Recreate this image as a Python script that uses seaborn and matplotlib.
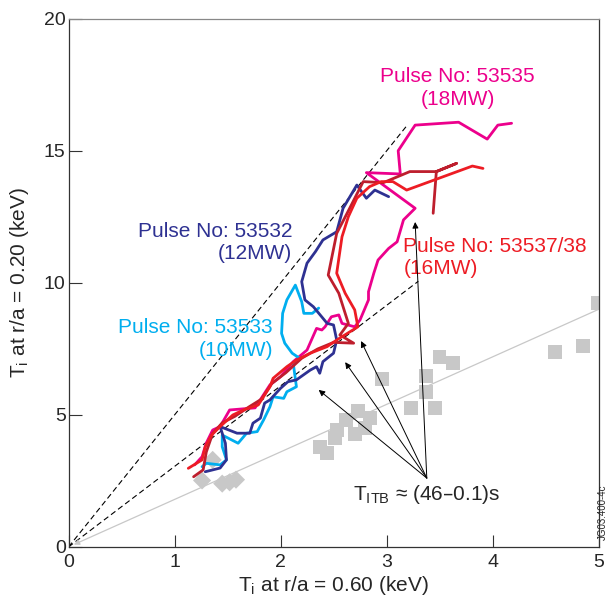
import matplotlib
matplotlib.use('Agg')
import matplotlib.pyplot as plt
import seaborn as sns

# Ti(r/a=0.60) vs Ti(r/a=0.20), keV
x_53535 = [1.19, 1.26, 1.30, 1.36, 1.43, 1.52, 1.76, 1.90, 2.00, 2.12, 2.25, 2.34, 2.39, 2.42, 2.48,
           2.55, 2.58, 2.70, 2.75, 2.83, 2.83, 2.88, 2.92, 3.02, 3.10, 3.16, 3.27, 2.81, 3.13, 3.11,
           3.27, 3.68, 3.95, 4.05, 4.18]
y_53535 = [3.11, 3.42, 3.94, 4.43, 4.56, 5.19, 5.27, 6.14, 6.45, 7.02, 7.46, 8.28, 8.22, 8.34, 8.72,
           8.79, 8.47, 8.34, 8.60, 9.36, 9.67, 10.37, 10.87, 11.31, 11.56, 12.39, 12.83, 14.18, 14.13, 15.01,
           15.98, 16.09, 15.45, 15.98, 16.05]

x_53532 = [1.29, 1.43, 1.49, 1.48, 1.43, 1.59, 1.71, 1.74, 1.81, 1.85, 1.90, 2.00, 2.07, 2.15, 2.28,
           2.34, 2.37, 2.40, 2.50, 2.53, 2.50, 2.44, 2.31, 2.23, 2.20, 2.25, 2.33, 2.40, 2.53, 2.59,
           2.72, 2.81, 2.89, 3.02]
y_53532 = [2.85, 2.99, 3.30, 3.93, 4.56, 4.31, 4.31, 4.69, 4.88, 5.45, 5.57, 6.01, 6.26, 6.33, 6.70,
           6.83, 6.58, 7.02, 7.34, 7.84, 8.41, 8.47, 9.10, 9.36, 10.05, 10.75, 11.19, 11.63, 11.94, 12.83,
           13.71, 13.21, 13.52, 13.27]

x_53533 = [1.26, 1.30, 1.43, 1.49, 1.45, 1.45, 1.60, 1.68, 1.78, 1.84, 1.90, 1.93, 2.03, 2.06, 2.15,
           2.12, 2.18, 2.11, 2.04, 2.01, 2.02, 2.06, 2.14, 2.20, 2.22, 2.30, 2.36]
y_53533 = [3.04, 3.17, 3.11, 3.30, 3.80, 4.24, 3.93, 4.31, 4.37, 4.81, 5.31, 5.69, 5.63, 5.88, 6.07,
           6.96, 7.15, 7.34, 7.72, 8.09, 8.85, 9.36, 9.92, 9.29, 8.85, 8.85, 9.05]

x_53537 = [1.13, 1.26, 1.29, 1.35, 1.43, 1.55, 1.65, 1.79, 1.90, 1.93, 2.06, 2.15, 2.28, 2.44, 2.53,
           2.73, 2.70, 2.61, 2.53, 2.58, 2.64, 2.72, 2.84, 2.95, 3.06, 3.19, 3.81, 3.91]
y_53537 = [2.98, 3.30, 3.80, 4.24, 4.56, 5.00, 5.19, 5.38, 6.07, 6.39, 6.83, 7.08, 7.34, 7.59, 7.84,
           8.34, 8.98, 9.61, 10.37, 11.75, 12.51, 13.21, 13.65, 13.84, 13.84, 13.52, 14.43, 14.34]

x_53538 = [1.18, 1.27, 1.30, 1.36, 1.45, 1.57, 1.70, 1.82, 1.92, 2.05, 2.20, 2.35, 2.50, 2.69, 2.56,
           2.64, 2.55, 2.45, 2.53, 2.66, 2.78, 2.97, 3.22, 3.47, 3.66, 3.47, 3.44]
y_53538 = [2.66, 2.92, 3.60, 4.30, 4.70, 4.95, 5.30, 5.60, 6.20, 6.60, 7.15, 7.50, 7.75, 7.72, 8.03,
           8.47, 9.61, 10.30, 11.88, 12.89, 13.84, 13.80, 14.22, 14.22, 14.53, 14.22, 12.64]

sq_x = [3.50, 3.63, 2.96, 3.37, 3.37, 3.23, 3.46, 2.73, 2.84, 2.62, 2.80, 2.70, 2.53, 2.51, 2.37,
        2.44, 4.99, 4.59, 4.85]
sq_y = [7.19, 6.98, 6.35, 6.48, 5.88, 5.25, 5.25, 5.15, 4.88, 4.81, 4.50, 4.28, 4.43, 4.12, 3.80,
        3.55, 9.24, 7.39, 7.61]
dm_x = [1.26, 1.45, 1.52, 1.58, 1.36]
dm_y = [2.52, 2.40, 2.45, 2.55, 3.30]

# reference lines through the origin (slope, x end)
dash_slopes = [5.0, 3.05]
dash_xend = [3.2, 3.3]
grey_slope = 1.8

# T_ITB arrows: tail and heads
arrow_tail = (3.38, 2.61)
arrow_heads_x = [2.36, 2.61, 2.76, 3.27]
arrow_heads_y = [5.95, 7.00, 7.80, 12.31]

navy = '#2e3192'
cyan = '#00aeef'
magenta = '#ec008c'
red = '#ed1c24'
darkred = '#be1e2d'
grey = '#c8c8c8'

sns.set_style('ticks')
plt.rcParams['font.family'] = ['Liberation Sans', 'DejaVu Sans']

fig = plt.figure(figsize=(6.09, 6.03), dpi=100)
ax = fig.add_axes([0.1125, 0.0929, 0.8703, 0.8756])

# reference lines
for s, xe in zip(dash_slopes, dash_xend):
    ax.plot([0, xe], [0, s * xe], color='k', lw=0.8, dashes=(5, 3), zorder=1)
ax.annotate('', xy=(0.05, 0.05 * grey_slope), xytext=(5, 5 * grey_slope),
            arrowprops=dict(arrowstyle='-|>', color=grey, lw=0.9, shrinkA=0, shrinkB=0,
                            mutation_scale=8), zorder=1)

sns.scatterplot(x=sq_x, y=sq_y, marker='s', s=100, color=grey, edgecolor='none', ax=ax, zorder=2)
sns.scatterplot(x=dm_x, y=dm_y, marker='D', s=85, color=grey, edgecolor='none', ax=ax, zorder=2)

lw = 2.0
for xs, ys, c in [(x_53535, y_53535, magenta), (x_53533, y_53533, cyan), (x_53532, y_53532, navy),
                  (x_53538, y_53538, darkred), (x_53537, y_53537, red)]:
    sns.lineplot(x=xs, y=ys, sort=False, estimator=None, color=c, lw=lw, ax=ax, zorder=3)

for hx, hy in zip(arrow_heads_x, arrow_heads_y):
    ax.annotate('', xy=(hx, hy), xytext=arrow_tail,
                arrowprops=dict(arrowstyle='-|>', color='k', lw=0.7, shrinkA=0, shrinkB=0,
                                mutation_scale=9), zorder=4)

fs = 15
ls = 1.25
ax.text(3.67, 17.4, 'Pulse No: 53535\n(18MW)', color=magenta, fontsize=fs, ha='center', va='center',
        multialignment='center', linespacing=ls)
ax.text(2.11, 11.53, 'Pulse No: 53532\n(12MW)', color=navy, fontsize=fs, ha='right', va='center',
        multialignment='right', linespacing=ls)
ax.text(1.93, 7.88, 'Pulse No: 53533\n(10MW)', color=cyan, fontsize=fs, ha='right', va='center',
        multialignment='right', linespacing=ls)
ax.text(3.16, 10.97, 'Pulse No: 53537/38\n(16MW)', color=red, fontsize=fs, ha='left', va='center',
        multialignment='left', linespacing=ls)
ax.text(3.38, 1.97, r'T$_\mathregular{ITB}$ ≈ (46–0.1)s', fontsize=fs, ha='center', va='center')

ax.set_xlim(0, 5)
ax.set_ylim(0, 20)
ax.set_xticks([0, 1, 2, 3, 4, 5])
ax.set_yticks([0, 5, 10, 15, 20])
ax.tick_params(direction='in', length=9, width=0.8, labelsize=14, color='#333333')
ax.tick_params(axis='x', pad=5)
ax.tick_params(axis='y', pad=2)
ax.set_xlabel(r'T$_\mathregular{i}$ at r/a = 0.60 (keV)', fontsize=fs, labelpad=2)
ax.set_ylabel(r'T$_\mathregular{i}$ at r/a = 0.20 (keV)', fontsize=fs, labelpad=9)
for side in ['left', 'bottom', 'right']:
    ax.spines[side].set_color('#333333')
    ax.spines[side].set_linewidth(0.9)
ax.spines['top'].set_color('#888888')
ax.spines['top'].set_linewidth(0.9)

fig.text(603 / 609, 0.15, 'JG03.400-4c', rotation=90, fontsize=7, ha='center', va='center')

fig.savefig('out.png', dpi=100)
